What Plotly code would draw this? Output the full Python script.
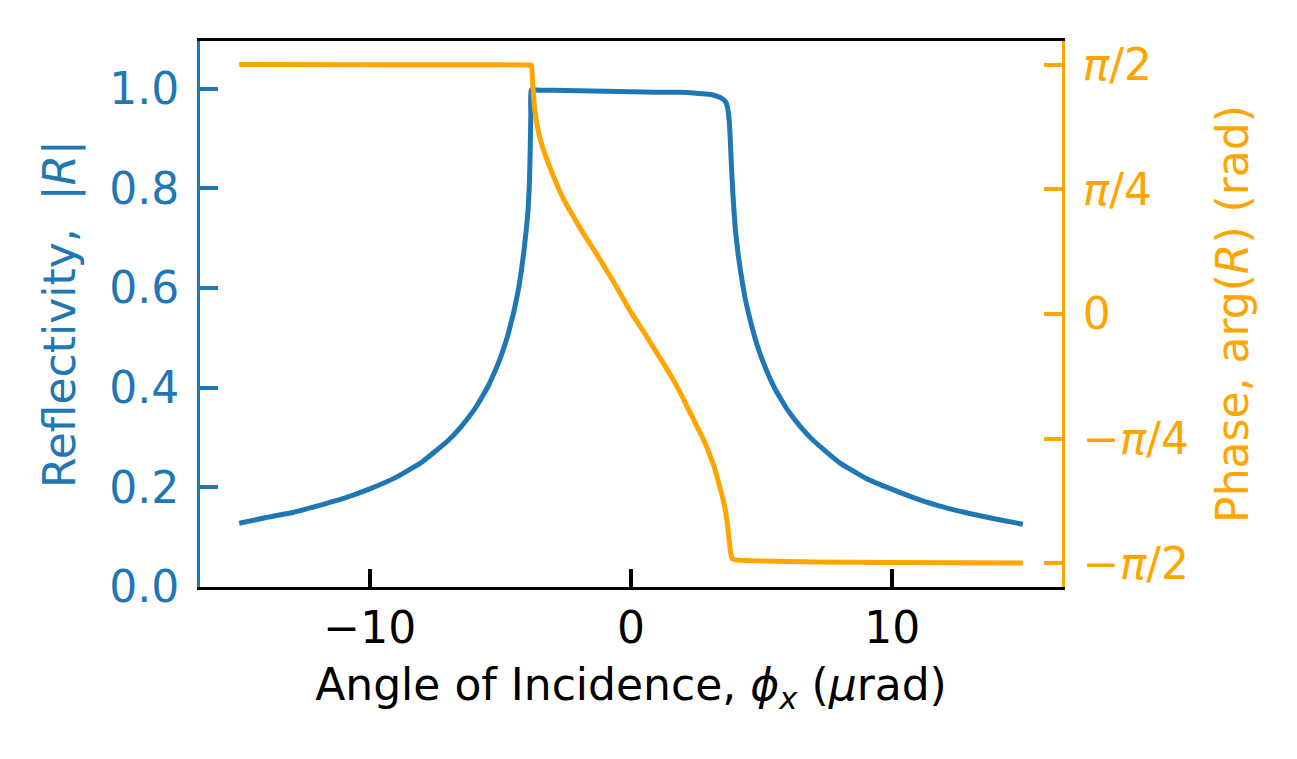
import plotly.graph_objects as go

# reflectivity |R|
angle_r = [-15, -14, -13, -12, -11, -10, -9, -8, -7, -6.5, -6, -5.8, -5.5, -5.2, -5, -4.85,
           -4.7, -4.6, -4.5, -4.4, -4.3, -4.2, -4.1, -4.0, -3.95, -3.92, -3.89, -3.87,
           -3.85, -3.835, -3.82,
           -3.5, -3, -2, -1, 0, 1, 1.88, 2.5, 3.0, 3.3, 3.5, 3.62, 3.67, 3.72, 3.76, 3.79,
           3.82, 3.85, 3.9, 3.95, 4.0, 4.1, 4.2, 4.3, 4.4, 4.6, 4.85, 5.2, 5.5, 5.8, 6, 6.5,
           7, 8, 9, 10, 11, 12, 13, 14, 15]
refl = [0.128, 0.139, 0.149, 0.163, 0.178, 0.197, 0.220, 0.251, 0.294, 0.322, 0.356, 0.373,
        0.400, 0.434, 0.460, 0.483, 0.508, 0.529, 0.549, 0.574, 0.600, 0.634, 0.674, 0.722,
        0.750, 0.775, 0.810, 0.850, 0.900, 0.950, 0.998,
        0.997, 0.997, 0.996, 0.995, 0.994, 0.993, 0.993, 0.991, 0.989, 0.985, 0.980, 0.974,
        0.968, 0.955, 0.935, 0.910, 0.875, 0.840, 0.790, 0.750, 0.715, 0.668, 0.632, 0.600,
        0.572, 0.528, 0.482, 0.433, 0.399, 0.372, 0.355, 0.321, 0.293, 0.249, 0.218, 0.196,
        0.176, 0.160, 0.147, 0.136, 0.126]

# phase arg(R)
angle_p = [-15, -10, -5, -3.85, -3.81, -3.78, -3.75, -3.70, -3.66, -3.62, -3.56, -3.50,
           -3.43, -3.37, -3.28, -3.20, -3.04, -2.80, -2.53, -2.20, -1.89, -1.50, -1.12,
           -0.75, -0.36, 0.0, 0.4, 0.8, 1.2, 1.6, 1.9, 2.2, 2.5, 2.8, 3.0, 3.2, 3.35, 3.5,
           3.61, 3.68, 3.74, 3.79, 3.83, 3.86, 3.9, 4.0, 4.2, 5, 7, 10, 15]
phase = [1.571, 1.570, 1.569, 1.567, 1.566, 1.49, 1.421, 1.31, 1.26, 1.215, 1.16, 1.115,
         1.075, 1.043, 1.0, 0.965, 0.896, 0.80, 0.707, 0.612, 0.525, 0.425, 0.325,
         0.225, 0.115, 0.01, -0.09, -0.195, -0.30, -0.41, -0.50, -0.60, -0.70, -0.80, -0.88,
         -0.97, -1.06, -1.15, -1.234, -1.31, -1.40, -1.47, -1.515, -1.535, -1.543, -1.548,
         -1.551, -1.556, -1.561, -1.565, -1.568]

x_ticks = [-10, 0, 10]
r_ticks = [0.0, 0.2, 0.4, 0.6, 0.8, 1.0]
p_ticks = [-1.5708, -0.7854, 0, 0.7854, 1.5708]
p_labels = ["\u2212<i>\u03c0</i>/2", "\u2212<i>\u03c0</i>/4", "0", "<i>\u03c0</i>/4", "<i>\u03c0</i>/2"]

blue = "#1f77b4"
orange = "#ffa500"
fsize = 44

fig = go.Figure()
fig.add_trace(go.Scatter(x=angle_r, y=refl, mode="lines",
                         line=dict(color=blue, width=5, shape="spline", smoothing=0.4),
                         yaxis="y", showlegend=False))
fig.add_trace(go.Scatter(x=angle_p, y=phase, mode="lines",
                         line=dict(color=orange, width=5, shape="spline", smoothing=0.5),
                         yaxis="y2", showlegend=False))

fig.update_layout(
    width=1297, height=759,
    margin=dict(l=192, r=243, t=33, b=180),
    paper_bgcolor="white", plot_bgcolor="white",
    font=dict(family="DejaVu Sans", size=fsize, color="black"),
    xaxis=dict(range=[-16.5, 16.5], tickvals=x_ticks, ticktext=["\u221210", "0", "10"],
               ticks="inside", ticklen=18, tickwidth=4, tickcolor="black",
               showline=True, linecolor="black", linewidth=3, mirror=True,
               showgrid=False, zeroline=False, ticklabelstandoff=0,
               title=dict(text="Angle of Incidence, <i>\u03d5<sub>x</sub></i> (<i>\u03bc</i>rad)",
                          font=dict(size=fsize), standoff=18)),
    yaxis=dict(range=[0, 1.096], tickvals=r_ticks, ticktext=["0.0", "0.2", "0.4", "0.6", "0.8", "1.0"],
               ticks="inside", ticklen=18, tickwidth=4, tickcolor=blue,
               tickfont=dict(color=blue), showline=True, linecolor=blue, linewidth=3,
               showgrid=False, zeroline=False, ticklabelstandoff=9,
               title=dict(text="Reflectivity,  |<i>R</i>|", font=dict(color=blue, size=fsize), standoff=20)),
    yaxis2=dict(range=[-1.719, 1.719], overlaying="y", side="right", tickvals=p_ticks,
                ticktext=p_labels, ticks="inside", ticklen=18, tickwidth=4, tickcolor=orange,
                tickfont=dict(color=orange), showline=True, linecolor=orange, linewidth=3,
                showgrid=False, zeroline=False, ticklabelstandoff=9,
                title=dict(text="Phase, arg(<i>R</i>) (rad)", font=dict(color=orange, size=fsize), standoff=30)),
)

fig.write_html("out.html")
